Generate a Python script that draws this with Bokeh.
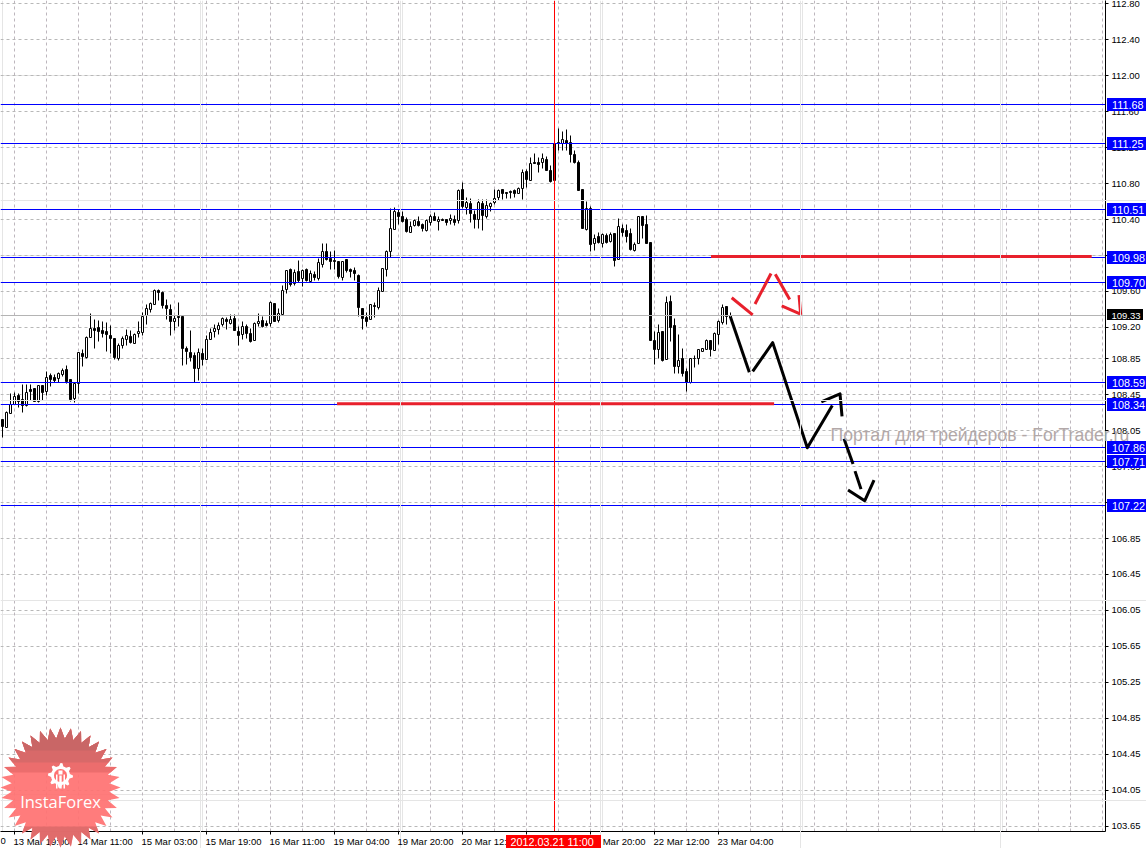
import numpy as np
from bokeh.embed import file_html
from bokeh.resources import INLINE
from bokeh.plotting import figure
from bokeh.layouts import column
from bokeh.models import (ColumnDataSource, Range1d, LinearAxis, FixedTicker, Grid, NumeralTickFormatter)
from bokeh.core.properties import value

opens = [
108.17,108.09,108.24,108.34,108.44,108.40,108.33,108.51,108.52,108.38,
108.55,108.49,108.66,108.64,108.63,108.67,108.73,108.62,108.41,108.58,
108.91,108.87,109.09,109.19,109.20,109.16,109.15,109.11,109.08,108.85,
109.00,109.06,109.10,109.02,109.13,109.14,109.33,109.40,109.46,109.61,
109.59,109.44,109.40,109.26,109.32,109.32,108.96,108.92,108.89,108.74,
108.91,108.84,109.07,109.15,109.18,109.23,109.29,109.24,109.30,109.15,
109.12,109.21,109.13,109.05,109.24,109.28,109.24,109.24,109.47,109.28,
109.34,109.62,109.84,109.69,109.82,109.74,109.84,109.71,109.79,109.74,
109.90,110.04,109.97,109.94,109.93,109.76,109.95,109.84,109.83,109.78,
109.41,109.31,109.29,109.44,109.42,109.60,109.84,110.05,110.29,110.48,
110.43,110.40,110.26,110.33,110.38,110.34,110.28,110.37,110.43,110.38,
110.40,110.40,110.39,110.40,110.39,110.73,110.53,110.58,110.46,110.40,
110.58,110.43,110.54,110.59,110.64,110.73,110.70,110.71,110.72,110.69,
110.75,110.93,110.83,111.03,111.03,111.03,111.07,110.95,110.83,111.26,
111.25,111.28,111.26,111.12,111.04,110.73,110.29,110.52,110.13,110.21,
110.13,110.22,110.16,110.24,109.95,110.30,110.28,110.24,110.06,110.13,
110.43,110.34,110.14,109.05,108.95,109.15,108.84,109.49,109.22,108.77,
108.85,108.71,108.59,108.85,108.85,108.93,108.95,109.05,108.94,109.12,
109.25,109.43,109.31]
closes = [
108.10,108.25,108.34,108.43,108.37,108.33,108.48,108.49,108.38,108.55,
108.48,108.64,108.62,108.61,108.69,108.72,108.60,108.40,108.58,108.92,
108.88,109.09,109.19,109.17,109.15,109.13,109.12,109.08,108.86,109.00,
109.08,109.11,109.03,109.12,109.15,109.32,109.41,109.47,109.61,109.59,
109.44,109.41,109.27,109.30,109.31,108.96,108.93,108.87,108.74,108.92,
108.84,109.06,109.14,109.19,109.22,109.30,109.26,109.29,109.16,109.11,
109.21,109.13,109.04,109.24,109.27,109.21,109.22,109.48,109.27,109.35,
109.61,109.83,109.68,109.81,109.72,109.83,109.72,109.80,109.76,109.92,
110.05,109.95,109.93,109.93,109.77,109.93,109.83,109.82,109.80,109.42,
109.30,109.27,109.45,109.43,109.61,109.86,110.05,110.30,110.49,110.43,
110.38,110.27,110.32,110.39,110.33,110.30,110.39,110.43,110.39,110.40,
110.39,110.37,110.41,110.37,110.72,110.54,110.59,110.47,110.40,110.59,
110.44,110.56,110.58,110.63,110.72,110.69,110.69,110.70,110.69,110.75,
110.92,110.85,111.02,111.02,111.01,111.08,110.95,110.82,111.25,111.25,
111.29,111.25,111.12,111.04,110.72,110.30,110.52,110.12,110.19,110.14,
110.23,110.14,110.23,109.94,110.32,110.26,110.21,110.07,110.12,110.43,
110.33,110.13,109.05,108.95,109.14,108.83,109.48,109.20,108.76,108.83,
108.69,108.59,108.85,108.85,108.95,108.97,109.05,108.95,109.13,109.27,
109.42,109.32,109.33]
highs = [
108.18,108.26,108.46,108.47,108.46,108.56,108.56,108.56,108.52,108.55,
108.55,108.71,108.69,108.67,108.70,108.74,108.78,108.62,108.58,108.92,
108.95,109.10,109.35,109.29,109.28,109.27,109.25,109.22,109.08,109.02,
109.10,109.18,109.17,109.13,109.26,109.37,109.45,109.48,109.62,109.62,
109.60,109.51,109.45,109.33,109.48,109.33,108.99,109.16,108.92,108.97,
108.96,109.11,109.19,109.23,109.25,109.31,109.31,109.34,109.34,109.21,
109.26,109.23,109.19,109.25,109.35,109.32,109.28,109.49,109.47,109.41,
109.67,109.83,109.86,109.84,109.94,109.84,109.85,109.83,109.82,109.97,
110.13,110.13,110.04,110.06,109.93,109.93,109.96,109.86,109.87,109.79,
109.41,109.36,109.46,109.48,109.64,109.86,110.06,110.52,110.53,110.51,
110.49,110.42,110.38,110.40,110.43,110.36,110.40,110.46,110.48,110.43,
110.41,110.40,110.46,110.44,110.73,110.81,110.65,110.63,110.50,110.62,
110.62,110.62,110.59,110.74,110.73,110.74,110.70,110.72,110.73,110.76,
110.96,110.96,111.09,111.13,111.09,111.13,111.10,111.00,111.25,111.41,
111.38,111.40,111.34,111.17,111.06,110.73,110.60,110.54,110.23,110.26,
110.24,110.24,110.26,110.24,110.41,110.34,110.34,110.30,110.15,110.43,
110.43,110.45,110.14,109.15,109.23,109.15,109.54,109.55,109.30,109.12,
108.96,108.74,108.85,108.89,108.95,108.97,109.07,109.05,109.14,109.28,
109.45,109.43,109.37]
lows = [
107.97,108.09,108.24,108.34,108.31,108.25,108.32,108.39,108.37,108.36,
108.39,108.44,108.54,108.59,108.59,108.65,108.57,108.37,108.36,108.46,
108.77,108.85,109.09,108.97,109.04,109.09,108.93,108.91,108.84,108.83,
108.96,109.00,109.02,109.02,109.09,109.11,109.23,109.37,109.45,109.50,
109.41,109.29,109.11,109.17,109.21,108.78,108.79,108.82,108.59,108.61,
108.78,108.84,109.07,109.09,109.12,109.21,109.18,109.23,109.16,109.00,
109.06,109.08,109.03,109.05,109.21,109.20,109.21,109.21,109.26,109.25,
109.34,109.58,109.65,109.67,109.70,109.65,109.71,109.70,109.72,109.72,
109.87,109.94,109.84,109.84,109.74,109.72,109.81,109.76,109.72,109.32,
109.18,109.21,109.29,109.31,109.40,109.60,109.77,109.98,110.29,110.34,
110.37,110.26,110.26,110.32,110.32,110.27,110.27,110.33,110.39,110.28,
110.39,110.33,110.34,110.33,110.36,110.52,110.46,110.37,110.30,110.30,
110.28,110.41,110.49,110.57,110.61,110.62,110.63,110.63,110.64,110.69,
110.62,110.76,110.83,111.02,110.92,110.97,110.95,110.81,110.83,111.17,
111.17,111.17,111.03,111.02,110.72,110.30,110.28,110.05,110.06,110.13,
110.09,110.13,110.15,109.88,109.95,110.21,110.15,110.06,110.04,110.13,
110.19,110.13,109.05,108.79,108.85,108.82,108.84,109.04,108.69,108.69,
108.65,108.49,108.57,108.75,108.79,108.93,108.95,108.88,108.94,109.01,
109.23,109.23,109.30]

levels = [111.68, 111.25, 110.51, 109.98, 109.70, 108.59, 108.34, 107.86, 107.71, 107.22]
last_price = 109.33
cursor_bar = 138
cursor_label = "2012.03.21 11:00"
price_ticks = [112.80,112.40,112.00,111.60,111.20,110.80,110.40,110.00,109.60,109.20,108.85,108.45,
               108.05,107.65,107.25,106.85,106.45,106.05,105.65,105.25,104.85,104.45,104.05,103.65]
time_labels = ["0","13 Mar 19:00","14 Mar 11:00","15 Mar 03:00","15 Mar 19:00","16 Mar 11:00",
               "19 Mar 04:00","19 Mar 20:00","20 Mar 12:00","21 Mar 04:00","21 Mar 20:00","22 Mar 12:00","23 Mar 04:00"]
time_bars = [-13,3,19,35,51,67,83,99,115,131,147,163,179]
grid_bars = list(range(3, 276, 8))

red_levels = [(177.13, 272.3, 109.99), (83.63, 192.9, 108.35)]
red_strokes = [
    ([182.3, 187.55], [109.53, 109.34]),
    ([188.13, 192.13], [109.46, 109.80]),
    ([193.2, 196.8], [109.79, 109.51]),
    ([194.8, 199.38], [109.44, 109.35]),
    ([199.13, 199.55], [109.56, 109.34]),
]
black_strokes = [
    ([181.95, 186.7], [109.32, 108.70]),
    ([187.55, 192.55, 201.2, 207.45], [108.71, 109.03, 107.86, 108.33]),
    ([204.7, 209.38, 209.88], [108.37, 108.46, 108.21]),
    ([210.38, 212.63], [107.96, 107.68]),
    ([213.13, 214.63], [107.60, 107.40]),
    ([211.38, 215.55, 217.88], [107.39, 107.27, 107.50]),
]

FONT = "Liberation Sans"
W, H, FW, FH = 1146, 848, 1105, 831
TOP, SCALE = 112.838, 89.85
X0, BARPX = -0.5, 4.0

def snap(v):
    return TOP - np.round((TOP - np.asarray(v, dtype=float)) * SCALE) / SCALE

def row(v):
    return float(np.round((TOP - v) * SCALE))

absolute = {"position": "absolute", "left": "0px", "top": "0px"}
p = figure(width=W, height=H, output_backend="svg", toolbar_location=None,
           x_range=Range1d(X0, X0 + FW / BARPX), y_range=Range1d(TOP - FH / SCALE, TOP),
           x_axis_location=None, y_axis_location=None,
           min_border_left=0, min_border_top=0, min_border_right=W-FW, min_border_bottom=H-FH,
           background_fill_color="white", border_fill_color="white", outline_line_color=None,
           styles=dict(absolute))

p.add_layout(Grid(dimension=0, ticker=FixedTicker(ticks=grid_bars), grid_line_color="#bdb6bd", grid_line_dash="3 3"))
p.add_layout(Grid(dimension=1, ticker=FixedTicker(ticks=[float(t) for t in snap(price_ticks)]),
                  grid_line_color="#b8b8b8", grid_line_dash="3 3"))

ax = LinearAxis(ticker=FixedTicker(ticks=price_ticks), formatter=NumeralTickFormatter(format="0.00"),
                major_tick_out=3, major_tick_in=0, minor_tick_line_color=None,
                axis_line_color="black", major_tick_line_color="black", major_label_standoff=3,
                major_label_text_font=FONT, major_label_text_font_size="9.5px", major_label_text_color="black")
p.add_layout(ax, "right")
bx = LinearAxis(ticker=FixedTicker(ticks=time_bars[1:]), major_label_overrides={b: "" for b in time_bars},
                major_tick_out=3, major_tick_in=0, minor_tick_line_color=None,
                axis_line_color="black", major_tick_line_color="black")
p.add_layout(bx, "below")

idx = np.arange(len(opens))
o, c = np.array(opens), np.array(closes)
src = ColumnDataSource(dict(x=idx, high=snap(highs), low=snap(lows), top=snap(np.maximum(o, c)), bottom=snap(np.minimum(o, c)),
                            fill=["white" if cc >= oo else "black" for oo, cc in zip(opens, closes)]))
p.segment("x", "high", "x", "low", source=src, line_color="black", line_width=1)
p.vbar("x", width=0.5, top="top", bottom="bottom", source=src, fill_color="fill", line_color="black", line_width=1)

xl, xr = X0, X0 + FW / BARPX
yb, yt = TOP - FH / SCALE, TOP
lv = snap(levels)
p.segment(x0=[xl]*len(lv), x1=[xr]*len(lv), y0=lv, y1=lv, line_color="#0000ff", line_width=1)
lp = float(snap(last_price))
p.segment(x0=[xl], x1=[xr], y0=[lp], y1=[lp], line_color="#b4b4b4", line_width=1)
p.segment(x0=[cursor_bar], x1=[cursor_bar], y0=[yb], y1=[yt], line_color="#ff0000", line_width=1)

for x0, x1, y in red_levels:
    p.line([x0, x1], [y, y], line_color="#e8202c", line_width=3)
for xs, ys in red_strokes:
    p.line(xs, ys, line_color="#e8202c", line_width=3)
for xs, ys in black_strokes:
    p.line(xs, ys, line_color="black", line_width=3, line_join="round")

# overlay canvas, in page pixels, for everything that lies over the axes
q = figure(width=W, height=H, frame_width=W, frame_height=H, output_backend="svg", toolbar_location=None,
           x_range=Range1d(0, W), y_range=Range1d(H, 0), x_axis_location=None, y_axis_location=None,
           min_border_left=0, min_border_right=0, min_border_top=0, min_border_bottom=0,
           background_fill_color=None, border_fill_color=None, outline_line_color=None,
           styles=dict(absolute))

def txt(x, y, s, color, size, align="left", font=FONT):
    q.text([x], [y], text=[s], text_color=color, text_font=value(font), text_font_size=size,
           text_align=align, text_baseline="middle")

def box(x0, x1, y0, y1, color):
    q.quad(left=[x0 - .5], right=[x1 - .5], top=[y0 - .5], bottom=[y1 - .5], fill_color=color, line_color=None)

txt(830, 434, "Портал для трейдеров - ForTrader.ru", "#b2a8a8", "17.6px")

for b, t in zip(time_bars, time_labels):
    tx = 2.5 + BARPX * b
    txt(0 if b < 0 else tx - 1.5, 840.5, t, "black", "9.5px")

for v in levels:
    r = row(v)
    box(1107, 1146, r - 6, r + 7, "#0000ff")
    txt(1111.5, r + 0.5, f"{v:.2f}", "white", "10.8px")
r = row(last_price)
box(1107, 1143, r - 6, r + 5, "black")
txt(1111, r, f"{last_price:.2f}", "white", "9.5px")

box(506, 601, 835, 848, "#ff0000")
txt(510, 841.5, cursor_label, "white", "10.8px")

# InstaForex badge
def clip(pts, lim, above):
    keep = (lambda pt: pt[1] <= lim) if above else (lambda pt: pt[1] >= lim)
    out = []
    for i in range(len(pts)):
        a, b = pts[i - 1], pts[i]
        if keep(a) != keep(b):
            t = (lim - a[1]) / (b[1] - a[1])
            out.append((a[0] + t * (b[0] - a[0]), lim))
        if keep(b):
            out.append(b)
    return out

def poly(pts, color, alpha=1.0):
    q.patch([pt[0] for pt in pts], [pt[1] for pt in pts], fill_color=color, fill_alpha=alpha, line_color=None)

cx, cy, teeth = 60, 787, 36
ang = np.linspace(0, 2 * np.pi, teeth * 2, endpoint=False)
rad = np.where(np.arange(teeth * 2) % 2 == 0, 60, 49)
star = list(zip(cx + rad * np.sin(ang), cy - rad * np.cos(ang)))
poly(star, "#ff7272", 0.93)
poly(clip(star, 772, True), "#ea6c6c", 0.9)
poly(clip(star, 762, True), "#d66868", 0.9)
poly(clip(star, 750, True), "#c86666", 0.9)
poly(clip(star, 826, False), "#dd6a6a", 0.9)

gx, gy = 60, 775
g_a = np.linspace(0, 2 * np.pi, 40, endpoint=False)
g_r = np.where((np.arange(40) % 5) < 2, 12.5, 9.5)
poly(list(zip(gx + g_r * np.sin(g_a), gy - g_r * np.cos(g_a))), "white")
h_a = np.linspace(0, 2 * np.pi, 24, endpoint=False)
poly(list(zip(gx + 6.5 * np.sin(h_a), gy - 6.5 * np.cos(h_a))), "#ff7272")
poly([(gx - 2, gy - 5), (gx + 2, gy - 5), (gx + 2, gy - 1), (gx - 2, gy - 1)], "white")
poly([(gx - 1.2, gy), (gx + 1.2, gy), (gx + 1.2, gy + 13), (gx - 1.2, gy + 13)], "white")
poly([(gx - 4.5, gy - 1), (gx - 3, gy - 1), (gx - 3, gy + 13), (gx - 4.5, gy + 13)], "white")
poly([(gx + 3, gy - 1), (gx + 4.5, gy - 1), (gx + 4.5, gy + 13), (gx + 3, gy + 13)], "white")
txt(60, 801, "InstaForex", "white", "16.5px", align="center", font="Open Sans")

page = column(p, q, width=W, height=H, styles=dict(absolute))
open("out.html", "w").write(file_html(page, INLINE))
